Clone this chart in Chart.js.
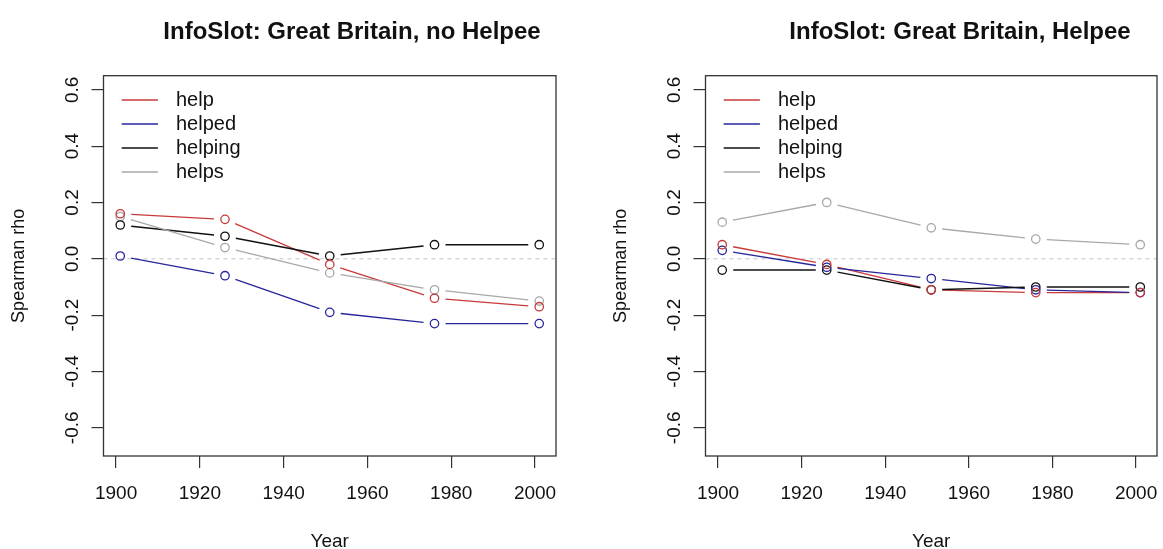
<!DOCTYPE html>
<html>
<head>
<meta charset="utf-8">
<script src="https://cdn.jsdelivr.net/npm/chart.js@4/dist/chart.umd.min.js"></script>
<style>
  html, body { margin: 0; padding: 0; background: #fff; overflow: hidden; }
  .panel { position: absolute; top: 0; height: 549px; }
</style>
</head>
<body>
<div class="panel" style="left:0;width:602px"><canvas id="noHelpee" width="602" height="549"></canvas></div>
<div class="panel" style="left:602px;width:602px"><canvas id="helpee" width="602" height="549"></canvas></div>
<script>
// Spearman rho per 25-year slice, one array per verb form
const years = [1901, 1926, 1951, 1976, 2001];
const seriesNames = ['help', 'helped', 'helping', 'helps'];
const seriesColors = ['#c83a3a', '#26269c', '#111111', '#a8a8a8'];

const noHelpeeHelp    = [0.16, 0.14, -0.02, -0.14, -0.17];
const noHelpeeHelped  = [0.01, -0.06, -0.19, -0.23, -0.23];
const noHelpeeHelping = [0.12, 0.08, 0.01, 0.05, 0.05];
const noHelpeeHelps   = [0.15, 0.04, -0.05, -0.11, -0.15];

const helpeeHelp    = [0.05, -0.02, -0.11, -0.12, -0.12];
const helpeeHelped  = [0.03, -0.03, -0.07, -0.11, -0.12];
const helpeeHelping = [-0.04, -0.04, -0.11, -0.10, -0.10];
const helpeeHelps   = [0.13, 0.20, 0.11, 0.07, 0.05];

const xTicks = [1900, 1920, 1940, 1960, 1980, 2000];
const yTicks = [-0.6, -0.4, -0.2, 0, 0.2, 0.4, 0.6];
const yTickLabels = ['-0.6', '-0.4', '-0.2', '0.0', '0.2', '0.4', '0.6'];

const FONT = '"Liberation Sans", Arial, Helvetica, sans-serif';
const INK = '#111';

// base-graphics look: gapped "b" lines, dashed zero line, full box,
// rotated y labels, bare legend and a bold main title
const basePlot = {
  id: 'basePlot',
  beforeDatasetsDraw(chart, args, opts) {
    const { ctx, chartArea: a, scales: { y } } = chart;
    ctx.save();
    const y0 = y.getPixelForValue(0);
    ctx.strokeStyle = '#c6c6c6';
    ctx.lineWidth = 1;
    ctx.setLineDash([4, 4]);
    ctx.beginPath();
    ctx.moveTo(a.left, y0);
    ctx.lineTo(a.right, y0);
    ctx.stroke();
    ctx.setLineDash([]);

    chart.data.datasets.forEach((ds, i) => {
      const pts = chart.getDatasetMeta(i).data;
      ctx.strokeStyle = ds.borderColor;
      ctx.lineWidth = ds.borderWidth;
      for (let k = 1; k < pts.length; k++) {
        const p = pts[k - 1], q = pts[k];
        const dx = q.x - p.x, dy = q.y - p.y;
        const len = Math.hypot(dx, dy);
        if (len <= 2 * opts.gap) continue;
        const ux = dx / len, uy = dy / len;
        ctx.beginPath();
        ctx.moveTo(p.x + ux * opts.gap, p.y + uy * opts.gap);
        ctx.lineTo(q.x - ux * opts.gap, q.y - uy * opts.gap);
        ctx.stroke();
      }
    });
    ctx.restore();
  },
  afterDraw(chart, args, opts) {
    const { ctx, chartArea: a, scales: { y } } = chart;
    ctx.save();

    ctx.strokeStyle = '#333';
    ctx.lineWidth = 1.3;
    ctx.strokeRect(a.left, a.top, a.right - a.left, a.bottom - a.top);

    ctx.fillStyle = INK;
    ctx.font = '19px ' + FONT;
    ctx.textAlign = 'center';
    ctx.textBaseline = 'alphabetic';
    y.ticks.forEach((t, i) => {
      ctx.save();
      ctx.translate(opts.yLabelX, y.getPixelForValue(t.value));
      ctx.rotate(-Math.PI / 2);
      ctx.fillText(yTickLabels[i], 0, 0);
      ctx.restore();
    });

    ctx.font = 'bold 24px ' + FONT;
    ctx.fillText(opts.title, opts.titleX, 38.5);

    ctx.font = '20px ' + FONT;
    ctx.textAlign = 'left';
    ctx.textBaseline = 'middle';
    chart.data.datasets.forEach((ds, i) => {
      const ly = a.top + 24.3 + i * 24;
      ctx.strokeStyle = ds.borderColor;
      ctx.lineWidth = ds.borderWidth;
      ctx.beginPath();
      ctx.moveTo(a.left + 18.2, ly);
      ctx.lineTo(a.left + 54.4, ly);
      ctx.stroke();
      ctx.fillStyle = INK;
      ctx.fillText(ds.label, a.left + 72.5, ly);
    });
    ctx.restore();
  }
};

function makePanel(id, title, titleX, boxRight, values) {
  const canvas = document.getElementById(id);
  return new Chart(canvas, {
    type: 'line',
    data: {
      datasets: seriesNames.map((name, i) => ({
        label: name,
        data: years.map((yr, k) => ({ x: yr, y: values[i][k] })),
        showLine: false,
        borderColor: seriesColors[i],
        borderWidth: i === 2 ? 1.5 : 1.3,
        pointRadius: 4.2,
        pointHoverRadius: 4.2,
        pointBorderWidth: 1.3,
        pointBorderColor: seriesColors[i],
        pointBackgroundColor: 'rgba(0,0,0,0)'
      }))
    },
    options: {
      responsive: false,
      animation: false,
      events: [],
      layout: { padding: { left: 0, right: canvas.width - boxRight, top: 75.7, bottom: 0 } },
      plugins: {
        legend: { display: false },
        tooltip: { enabled: false },
        basePlot: { title: title, titleX: titleX, yLabelX: 78.3, gap: 11 }
      },
      scales: {
        x: {
          type: 'linear',
          min: 1897,
          max: 2005,
          afterBuildTicks: s => { s.ticks = xTicks.map(v => ({ value: v })); },
          afterFit: s => { s.height = 93; },
          border: { display: false },
          grid: { drawOnChartArea: false, tickLength: 12, color: '#333', lineWidth: 1.2 },
          ticks: {
            padding: 14,
            color: INK,
            font: { family: FONT, size: 19 },
            maxRotation: 0,
            callback: v => String(v)
          },
          title: {
            display: true,
            text: 'Year',
            color: INK,
            font: { family: FONT, size: 19, lineHeight: 0.8 },
            padding: 0
          }
        },
        y: {
          min: -0.7,
          max: 0.65,
          afterBuildTicks: s => { s.ticks = yTicks.map(v => ({ value: v })); },
          afterFit: s => { s.width = 103.5; },
          border: { display: false },
          grid: { drawOnChartArea: false, tickLength: 12, color: '#333', lineWidth: 1.2 },
          ticks: { display: false },
          title: {
            display: true,
            text: 'Spearman rho',
            color: INK,
            font: { family: FONT, size: 18 },
            padding: { top: 8.5, bottom: 0 }
          }
        }
      }
    },
    plugins: [basePlot]
  });
}

makePanel('noHelpee', 'InfoSlot: Great Britain, no Helpee', 352, 556,
  [noHelpeeHelp, noHelpeeHelped, noHelpeeHelping, noHelpeeHelps]);
makePanel('helpee', 'InfoSlot: Great Britain, Helpee', 358, 555,
  [helpeeHelp, helpeeHelped, helpeeHelping, helpeeHelps]);
</script>
</body>
</html>
